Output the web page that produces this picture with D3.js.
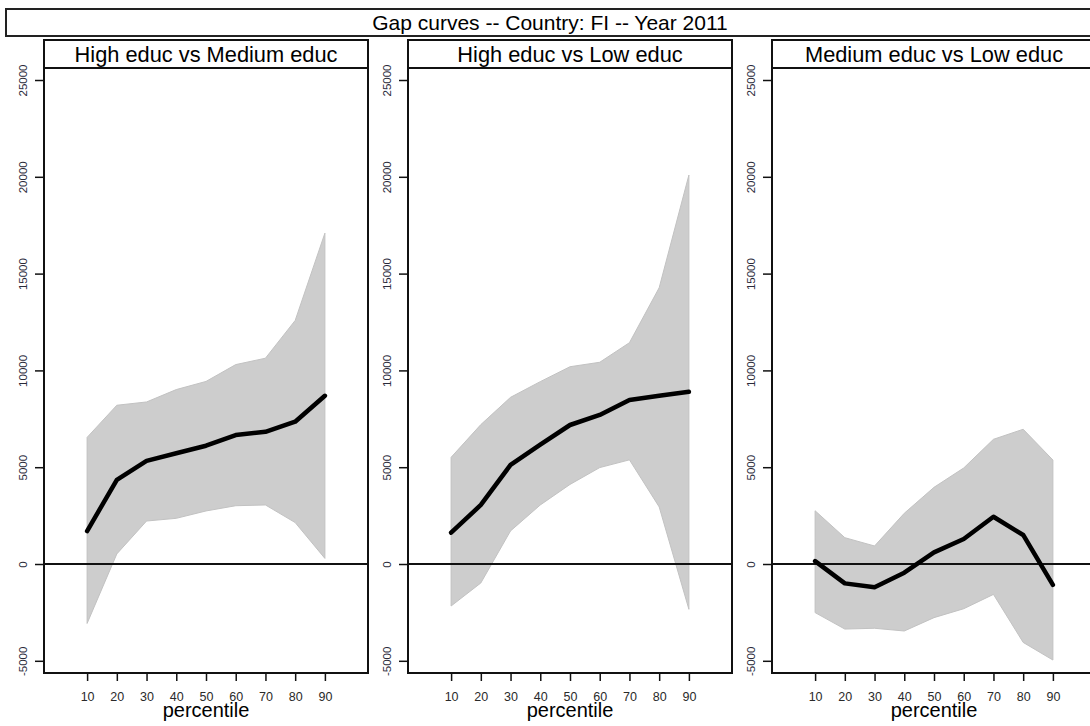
<!DOCTYPE html>
<html>
<head>
<meta charset="utf-8">
<script src="https://cdn.jsdelivr.net/npm/d3@7"></script>
<style>
body { margin: 0; background: #fff; }
text { font-family: "Liberation Sans", Arial, sans-serif; }
</style>
</head>
<body>
<div id="chart"></div>
<script>
// percentiles on the x axis
const percentiles = [10, 20, 30, 40, 50, 60, 70, 80, 90];
const yTicks = [-5000, 0, 5000, 10000, 15000, 20000, 25000];

const mainTitle = "Gap curves -- Country: FI -- Year 2011";
const panelTitles = ["High educ vs Medium educ", "High educ vs Low educ", "Medium educ vs Low educ"];

// High vs Medium
const meanHM  = [1700, 4350, 5330, 5720, 6110, 6660, 6830, 7350, 8690];
const upperHM = [6540, 8200, 8370, 9010, 9430, 10300, 10630, 12580, 17090];
const lowerHM = [-3070, 520, 2220, 2360, 2740, 3010, 3050, 2140, 290];

// High vs Low
const meanHL  = [1620, 3050, 5120, 6170, 7180, 7700, 8470, 8690, 8900];
const upperHL = [5510, 7200, 8610, 9420, 10190, 10420, 11430, 14270, 20090];
const lowerHL = [-2170, -980, 1710, 3050, 4110, 4980, 5380, 2950, -2340];

// Medium vs Low
const meanML  = [150, -1000, -1200, -450, 600, 1290, 2440, 1500, -1080];
const upperML = [2750, 1360, 930, 2620, 3960, 4960, 6440, 6960, 5370];
const lowerML = [-2510, -3360, -3320, -3460, -2770, -2310, -1570, -4050, -4960];

const panels = [
    { title: panelTitles[0], mean: meanHM, upper: upperHM, lower: lowerHM },
    { title: panelTitles[1], mean: meanHL, upper: upperHL, lower: lowerHL },
    { title: panelTitles[2], mean: meanML, upper: upperML, lower: lowerML }
];

const width = 1090, height = 726;
const panelLeft = 44, panelStep = 364, panelWidth = 324;
const plotTop = 68, plotBottom = 673, stripTop = 40;

const svg = d3.select("#chart")
    .append("svg")
    .attr("width", width)
    .attr("height", height);

// overall title strip
svg.append("rect")
    .attr("x", 6).attr("y", 9)
    .attr("width", 1090).attr("height", 27)
    .attr("fill", "#fff").attr("stroke", "#222").attr("stroke-width", 2);
svg.append("text")
    .attr("x", 550).attr("y", 30)
    .attr("text-anchor", "middle")
    .style("font-size", "21px")
    .text(mainTitle);

panels.forEach(function (p, i) {
    const left = panelLeft + i * panelStep;
    const x = d3.scaleLinear().domain([-4.5, 104.5]).range([left, left + panelWidth]);
    const y = d3.scaleLinear().domain([-5630, 25620]).range([plotBottom, plotTop]);

    const rows = percentiles.map((d, j) => ({ x: d, m: p.mean[j], lo: p.lower[j], hi: p.upper[j] }));
    const g = svg.append("g");

    // confidence band
    g.append("path")
        .datum(rows)
        .attr("d", d3.area().x(d => x(d.x)).y0(d => y(d.lo)).y1(d => y(d.hi)))
        .attr("fill", "#cdcdcd")
        .attr("stroke", "#c2c2c2")
        .attr("stroke-width", 1);

    // zero line
    g.append("line")
        .attr("x1", x.range()[0]).attr("x2", x.range()[1])
        .attr("y1", y(0)).attr("y2", y(0))
        .attr("stroke", "#111").attr("stroke-width", 2);

    // gap curve
    g.append("path")
        .datum(rows)
        .attr("d", d3.line().x(d => x(d.x)).y(d => y(d.m)))
        .attr("fill", "none")
        .attr("stroke", "#000")
        .attr("stroke-width", 4.5)
        .attr("stroke-linejoin", "round")
        .attr("stroke-linecap", "round");

    // frame
    g.append("rect")
        .attr("x", left).attr("y", plotTop)
        .attr("width", panelWidth).attr("height", plotBottom - plotTop)
        .attr("fill", "none").attr("stroke", "#111").attr("stroke-width", 2);

    // strip
    g.append("rect")
        .attr("x", left).attr("y", stripTop)
        .attr("width", panelWidth).attr("height", plotTop - stripTop)
        .attr("fill", "#fff").attr("stroke", "#111").attr("stroke-width", 2);
    g.append("text")
        .attr("x", left + panelWidth / 2).attr("y", 62)
        .attr("text-anchor", "middle")
        .style("font-size", "21.8px")
        .text(p.title);

    // y axis
    const yAxis = g.append("g")
        .attr("transform", `translate(${left},0)`)
        .call(d3.axisLeft(y).tickValues(yTicks).tickSize(9).tickFormat(d => d));
    yAxis.select(".domain").remove();
    yAxis.selectAll(".tick line").attr("stroke", "#111").attr("stroke-width", 1.5);
    yAxis.selectAll(".tick text")
        .attr("transform", "rotate(-90)")
        .attr("x", 0).attr("y", -17.5).attr("dy", 0)
        .attr("text-anchor", "middle")
        .attr("fill", "#2a2a3a")
        .style("font-size", "11.5px");

    // x axis
    const xAxis = g.append("g")
        .attr("transform", `translate(0,${plotBottom})`)
        .call(d3.axisBottom(x).tickValues(percentiles).tickSize(8).tickFormat(d => d));
    xAxis.select(".domain").remove();
    xAxis.selectAll(".tick line").attr("stroke", "#111").attr("stroke-width", 1.5);
    xAxis.selectAll(".tick text")
        .attr("y", 27.5).attr("dy", 0)
        .attr("fill", "#2a2a2a")
        .style("font-size", "12.5px");

    // x label
    g.append("text")
        .attr("x", left + panelWidth / 2).attr("y", 717)
        .attr("text-anchor", "middle")
        .style("font-size", "20px")
        .text("percentile");
});
</script>
</body>
</html>
